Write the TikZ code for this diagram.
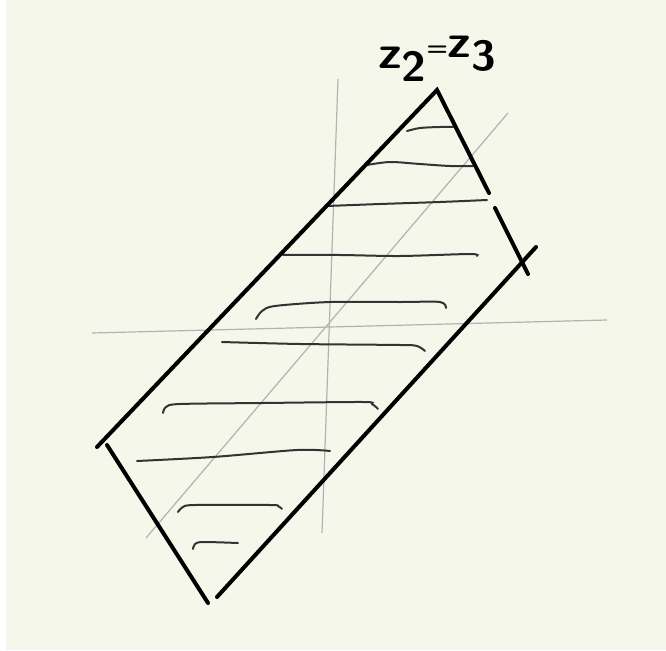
\documentclass[tikz,border=0pt]{standalone}
\begin{document}
\begin{tikzpicture}[x=1pt,y=-1pt,
  edge/.style={line width=4pt,line cap=round,line join=miter,black},
  hatch/.style={line width=2pt,line cap=round,black!80},
  axis/.style={line width=1.2pt,black!30}]
\definecolor{paper}{HTML}{F5F7EA}
\fill[white] (0,0) rectangle (666,650);
\fill[paper] (6,0) rectangle (666,650);
\useasboundingbox (0,0) rectangle (666,650);
% axes
\draw[axis] (338,79) -- (322,533);
\draw[axis] (92,333) -- (607,320);
\draw[axis] (508,113) -- (146,538);
% hatch lines
\draw[hatch] plot[smooth] coordinates {(407,131) (420,128) (440,127) (453,127)};
\draw[hatch] plot[smooth] coordinates {(367,165) (390,162) (420,164) (450,166) (473,166)};
\draw[hatch] plot[smooth] coordinates {(327,206) (380,204) (440,202) (487,200)};
\draw[hatch] plot[smooth] coordinates {(283,255) (340,255) (400,256) (470,254) (477,256)};
\draw[hatch] plot[smooth] coordinates {(256,319) (262,311) (275,306) (330,302) (400,302) (440,302) (446,308)};
\draw[hatch] plot[smooth] coordinates {(222,342) (300,344) (400,345) (417,346) (425,351)};
\draw[hatch] plot[smooth] coordinates {(163,413) (166,407) (180,404) (263,403) (363,402) (372,404) (378,409)};
\draw[hatch] plot[smooth] coordinates {(137,461) (213,457) (297,450) (330,451)};
\draw[hatch] plot[smooth] coordinates {(178,512) (183,507) (195,505) (270,505) (278,506) (282,509)};
\draw[hatch] plot[smooth] coordinates {(193,549) (195,544) (203,542) (238,543)};
% main strokes
\draw[edge] (97,447) -- (437,90) -- (489,193);
\draw[edge] (495,208) -- (528,274);
\draw[edge] (536,247) -- (217,597);
\draw[edge] (107,445) -- (208,603);
% label
\node[inner sep=0pt,anchor=north west] (lab) at (378,36) {\resizebox*{118pt}{45pt}{\sffamily\bfseries z\raisebox{-0.6ex}{\small 2}\raisebox{0.6ex}{\tiny=}\raisebox{0.5ex}{z}\raisebox{-0.1ex}{\small 3}}};
\end{tikzpicture}
\end{document}
